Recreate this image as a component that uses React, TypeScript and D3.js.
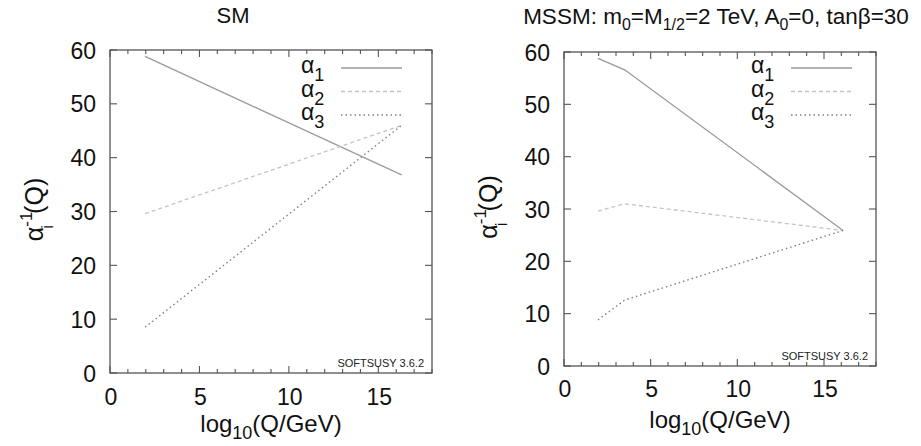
import React from "react";
import * as d3 from "d3";

const smQ = [1.96, 16.3];
const smA1 = [58.8, 36.8];
const smA2 = [29.6, 46.0];
const smA3 = [8.5, 46.0];

const mssmQ = [1.96, 3.5, 16.1];
const mssmA1 = [58.8, 56.6, 25.9];
const mssmA2 = [29.6, 31.0, 25.9];
const mssmA3 = [8.8, 12.6, 25.9];

const xTicks = [0, 5, 10, 15];
const yTicks = [0, 10, 20, 30, 40, 50, 60];
const seriesNames = ["1", "2", "3"];

const FONT = "'Liberation Sans', Arial, sans-serif";
const AXIS = "#555";

const styles = [
  { stroke: "#9a9a9a", dash: "none", width: 1.3 },
  { stroke: "#c4c4c4", dash: "4,3", width: 1.3 },
  { stroke: "#808080", dash: "1.5,3", width: 1.4 },
];

type PanelProps = {
  x0: number; x1: number; y0: number; y1: number;
  q: number[]; series: number[][];
  title: React.ReactNode;
  legendX: number; legendY: number;
  ylabX: number; xlabY: number; xtickDy: number;
};

function Panel(p: PanelProps) {
  const x = d3.scaleLinear().domain([0, 18]).range([p.x0, p.x1]);
  const y = d3.scaleLinear().domain([0, 60]).range([p.y1, p.y0]);
  const minor = d3.range(0, 19);
  const cx = (p.x0 + p.x1) / 2;
  const cy = (p.y0 + p.y1) / 2;
  return (
    <g fontFamily={FONT}>
      <g>{p.title}</g>
      {p.series.map((vals, si) => {
        const gen = d3.line<number>().x((d, i) => x(p.q[i])).y((d) => y(d));
        return (
          <path key={si} d={gen(vals) || ""} fill="none" stroke={styles[si].stroke}
            strokeDasharray={styles[si].dash} strokeWidth={styles[si].width} />
        );
      })}
      <rect x={p.x0} y={p.y0} width={p.x1 - p.x0} height={p.y1 - p.y0} fill="none" stroke={AXIS} strokeWidth={1.3} />
      {minor.map((t) => {
        const major = t % 5 === 0;
        const len = major ? 7 : 4;
        return (
          <g key={"xt" + t}>
            <line x1={x(t)} x2={x(t)} y1={p.y1} y2={p.y1 - len} stroke={AXIS} strokeWidth={1.1} />
            <line x1={x(t)} x2={x(t)} y1={p.y0} y2={p.y0 + len} stroke={AXIS} strokeWidth={1.1} />
          </g>
        );
      })}
      {xTicks.map((t) => (
        <text key={"xl" + t} x={x(t) + 1} y={p.y1 + p.xtickDy} fontSize={23} textAnchor="middle" fill="#111">{t}</text>
      ))}
      {yTicks.map((t) => (
        <g key={"yt" + t}>
          <line x1={p.x0} x2={p.x0 + 7} y1={y(t)} y2={y(t)} stroke={AXIS} strokeWidth={1.1} />
          <line x1={p.x1} x2={p.x1 - 7} y1={y(t)} y2={y(t)} stroke={AXIS} strokeWidth={1.1} />
          <text x={p.x0 - 14} y={y(t) + 8.5} fontSize={23} textAnchor="end" fill="#111">{t}</text>
        </g>
      ))}
      {seriesNames.map((s, i) => {
        const ly = p.legendY + i * 23.5;
        return (
          <g key={"lg" + i}>
            <text x={p.legendX} y={ly + 5} fontSize={23} fill="#111">
              α<tspan fontSize={18} dy={8}>{s}</tspan>
            </text>
            <line x1={p.legendX + 40} x2={p.legendX + 101} y1={ly} y2={ly}
              stroke={styles[i].stroke} strokeDasharray={styles[i].dash} strokeWidth={styles[i].width} />
          </g>
        );
      })}
      <text x={p.x1 - 8} y={p.y1 - 6.5} fontSize={11} textAnchor="end" fill="#222">SOFTSUSY 3.6.2</text>
      <text transform={`translate(${p.ylabX},${cy - 2}) rotate(-90)`} fontSize={25} textAnchor="middle" fill="#111">
        α<tspan fontSize={17} dy={-11}>-1</tspan><tspan fontSize={17} dx={-17} dy={21}>i</tspan><tspan dy={-10} dx={11}>(Q)</tspan>
      </text>
      <text x={cx} y={p.xlabY} fontSize={24} textAnchor="middle" fill="#111">
        log<tspan fontSize={18} dy={7}>10</tspan><tspan dy={-7}>(Q/GeV)</tspan>
      </text>
    </g>
  );
}

export default function App() {
  const smSeries = [smA1, smA2, smA3];
  const mssmSeries = [mssmA1, mssmA2, mssmA3];
  return (
    <svg width={921} height={446} style={{ display: "block", position: "absolute", left: 0, top: 0, background: "#fff" }}>
      <rect width={921} height={446} fill="#fff" />
      <Panel x0={110} x1={432} y0={50} y1={373} q={smQ} series={smSeries}
        title={<text x={233} y={23} fontSize={22} fontFamily={FONT} textAnchor="middle" fill="#111">SM</text>}
        legendX={301} legendY={68} ylabX={43} xlabY={432} xtickDy={32} />
      <Panel x0={564} x1={876} y0={52} y1={366} q={mssmQ} series={mssmSeries}
        title={
          <text x={716} y={24} fontSize={22.5} fontFamily={FONT} textAnchor="middle" fill="#111">
            MSSM: m<tspan fontSize={16} dy={6}>0</tspan><tspan dy={-6}>=M</tspan><tspan fontSize={16} dy={6}>1/2</tspan><tspan dy={-6}>=2 TeV, A</tspan><tspan fontSize={16} dy={6}>0</tspan><tspan dy={-6}>=0, tanβ=30</tspan>
          </text>
        }
        legendX={751} legendY={68} ylabX={497} xlabY={428} xtickDy={31} />
    </svg>
  );
}
